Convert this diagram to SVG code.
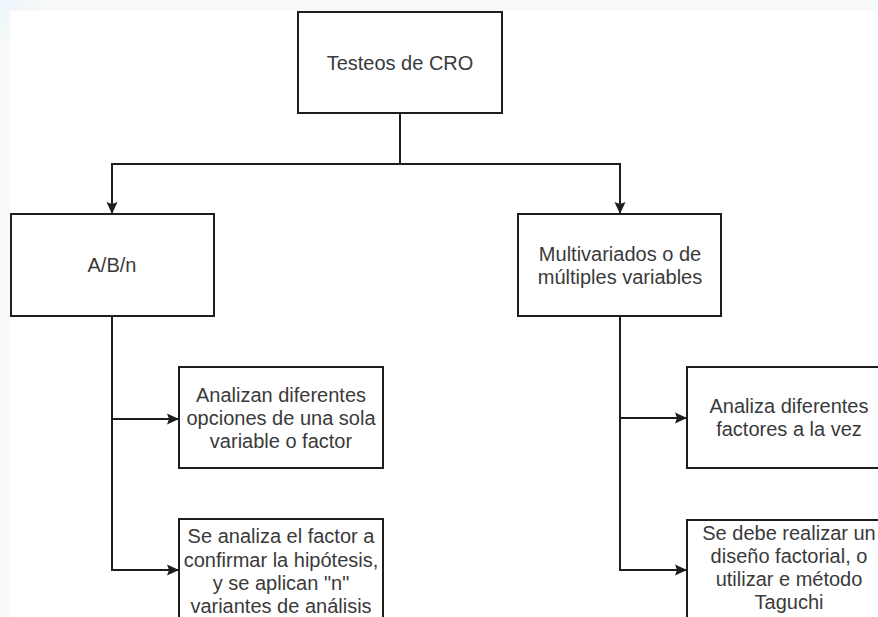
<svg xmlns="http://www.w3.org/2000/svg" width="878" height="617" viewBox="0 0 878 617">
  <style>
    .box { fill: #ffffff; stroke: #1e1e1e; stroke-width: 2; }
    .lbl { font-family: "Liberation Sans", Arial, sans-serif; font-size: 20px; fill: #3a3a3a; text-anchor: middle; }
    .edge { fill: none; stroke: #1e1e1e; stroke-width: 2; }
  </style>
  <defs>
    <marker id="arrow" viewBox="0 0 12 12" markerWidth="12" markerHeight="13" refX="12" refY="6" orient="auto" markerUnits="userSpaceOnUse">
      <path d="M0,0.5 L12,6 L0,11.5 L2,6 Z" fill="#1e1e1e"/>
    </marker>
    <linearGradient id="corner" x1="0" y1="0" x2="1" y2="1">
      <stop offset="0" stop-color="#eaf6fb"/>
      <stop offset="1" stop-color="#f8f9f9" stop-opacity="0"/>
    </linearGradient>
  </defs>

  <rect x="0" y="0" width="878" height="617" fill="#f8f9f9"/>
  <rect x="0" y="0" width="40" height="40" fill="url(#corner)"/>
  <rect x="10" y="11" width="868" height="606" fill="#ffffff"/>

  <g id="connectors">
    <path class="edge" d="M400,113 V164 H112 V214" marker-end="url(#arrow)"/>
    <path class="edge" d="M400,164 H620 V214" marker-end="url(#arrow)"/>
    <path class="edge" d="M112,316 V419 H179" marker-end="url(#arrow)"/>
    <path class="edge" d="M112,419 V570 H179" marker-end="url(#arrow)"/>
    <path class="edge" d="M620,316 V418 H687" marker-end="url(#arrow)"/>
    <path class="edge" d="M620,418 V570 H687" marker-end="url(#arrow)"/>
  </g>

  <g id="node-testeos">
    <rect class="box" x="298" y="12" width="204" height="101"/>
    <text class="lbl" x="400" y="70">Testeos de CRO</text>
  </g>

  <g id="node-abn">
    <rect class="box" x="11" y="214" width="203" height="102"/>
    <text class="lbl" x="112" y="272">A/B/n</text>
  </g>

  <g id="node-multivariados">
    <rect class="box" x="518" y="214" width="203" height="102"/>
    <text class="lbl" x="620" y="261">Multivariados o de</text>
    <text class="lbl" x="620" y="284">múltiples variables</text>
  </g>

  <g id="node-analizan">
    <rect class="box" x="179" y="367" width="204" height="101"/>
    <text class="lbl" x="281" y="402">Analizan diferentes</text>
    <text class="lbl" x="281" y="425">opciones de una sola</text>
    <text class="lbl" x="281" y="448">variable o factor</text>
  </g>

  <g id="node-se-analiza">
    <rect class="box" x="179" y="519" width="204" height="101"/>
    <text class="lbl" x="281" y="543">Se analiza el factor a</text>
    <text class="lbl" x="281" y="567">confirmar la hipótesis,</text>
    <text class="lbl" x="281" y="590">y se aplican "n"</text>
    <text class="lbl" x="281" y="613">variantes de análisis</text>
  </g>

  <g id="node-analiza-factores">
    <rect class="box" x="687" y="367" width="204" height="101"/>
    <text class="lbl" x="789" y="413">Analiza diferentes</text>
    <text class="lbl" x="789" y="436">factores a la vez</text>
  </g>

  <g id="node-se-debe">
    <rect class="box" x="687" y="520" width="204" height="101"/>
    <text class="lbl" x="789" y="540">Se debe realizar un</text>
    <text class="lbl" x="789" y="563">diseño factorial, o</text>
    <text class="lbl" x="789" y="586">utilizar e método</text>
    <text class="lbl" x="789" y="609">Taguchi</text>
  </g>
</svg>
